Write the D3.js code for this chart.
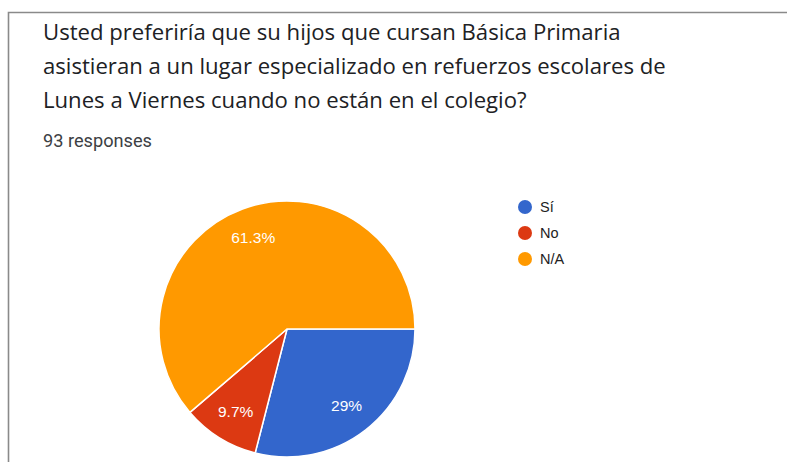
<!DOCTYPE html>
<html>
<head>
<meta charset="utf-8">
<script src="https://cdn.jsdelivr.net/npm/d3@7"></script>
<style>
  html, body { margin: 0; padding: 0; background: #fff; }
  svg { display: block; }
</style>
</head>
<body>
<svg id="chart" width="787" height="462"></svg>
<script>
// Survey question and answer data
const titleLines = [
  "Usted preferiría que su hijos que cursan Básica Primaria",
  "asistieran a un lugar especializado en refuerzos escolares de",
  "Lunes a Viernes cuando no están en el colegio?"
];
const responsesText = "93 responses";
const categories = ["Sí", "No", "N/A"];
const percentages = [29, 9.7, 61.3];
const colors = ["#3366cc", "#dc3912", "#ff9900"];

const W = 787, H = 462;
const svg = d3.select("#chart");

// Card border (top and left edges visible)
svg.append("path")
  .attr("d", `M8.5,${H} L8.5,12.5 L${W},12.5`)
  .attr("fill", "none")
  .attr("stroke", "#8a8a8a")
  .attr("stroke-width", 1.6);

// Fit a text node to a target width by scaling its font size
function fitWidth(sel, base, target) {
  sel.attr("font-size", base);
  const w = sel.node().getComputedTextLength();
  const s = base * target / w;
  sel.attr("font-size", s);
  return s;
}

// Question title
const titleFont = "'Open Sans', 'Noto Sans', sans-serif";
const title = svg.append("g").attr("fill", "#202124");
const lineY = [40, 74, 108];
titleLines.forEach((t, i) => {
  title.append("text")
    .attr("x", 43).attr("y", lineY[i])
    .attr("font-family", titleFont)
    .text(t);
});
const fs = fitWidth(title.select("text"), 20, 578);
title.selectAll("text").attr("font-size", fs);

const resp = svg.append("text")
  .attr("x", 43).attr("y", 147)
  .attr("font-family", "Roboto, Arial, sans-serif")
  .attr("fill", "#3c4043")
  .text(responsesText);
fitWidth(resp, 16, 109);

// Pie
const cx = 287, cy = 329, R = 128;
const data = categories.map((c, i) => ({ cat: c, value: percentages[i], color: colors[i] }));
const pie = d3.pie().value(d => d.value).sort(null)
  .startAngle(Math.PI / 2).endAngle(Math.PI / 2 + 2 * Math.PI);
const arcs = pie(data);
const arc = d3.arc().innerRadius(0).outerRadius(R);
const labelArc = d3.arc().innerRadius(R * 0.76).outerRadius(R * 0.76);

const g = svg.append("g").attr("transform", `translate(${cx},${cy})`);
g.selectAll("path.slice").data(arcs).join("path")
  .attr("class", "slice")
  .attr("d", arc)
  .attr("fill", d => d.data.color)
  .attr("stroke", "#fff")
  .attr("stroke-width", 1.5);

g.selectAll("text.lbl").data(arcs).join("text")
  .attr("class", "lbl")
  .attr("transform", d => `translate(${labelArc.centroid(d)})`)
  .attr("text-anchor", "middle")
  .attr("dy", "0.35em")
  .attr("font-family", "Arial, 'Liberation Sans', sans-serif")
  .attr("font-size", 15.5)
  .attr("fill", "#fff")
  .text(d => d.data.value + "%");

// Legend
const legend = svg.append("g").attr("transform", "translate(525,207)");
const items = legend.selectAll("g").data(data).join("g")
  .attr("transform", (d, i) => `translate(0,${i * 26})`);
items.append("circle").attr("r", 7).attr("fill", d => d.color);
items.append("text")
  .attr("x", 15).attr("dy", "0.35em")
  .attr("font-family", "Arial, 'Liberation Sans', sans-serif")
  .attr("font-size", 14.5)
  .attr("fill", "#222")
  .text(d => d.cat);
</script>
</body>
</html>
